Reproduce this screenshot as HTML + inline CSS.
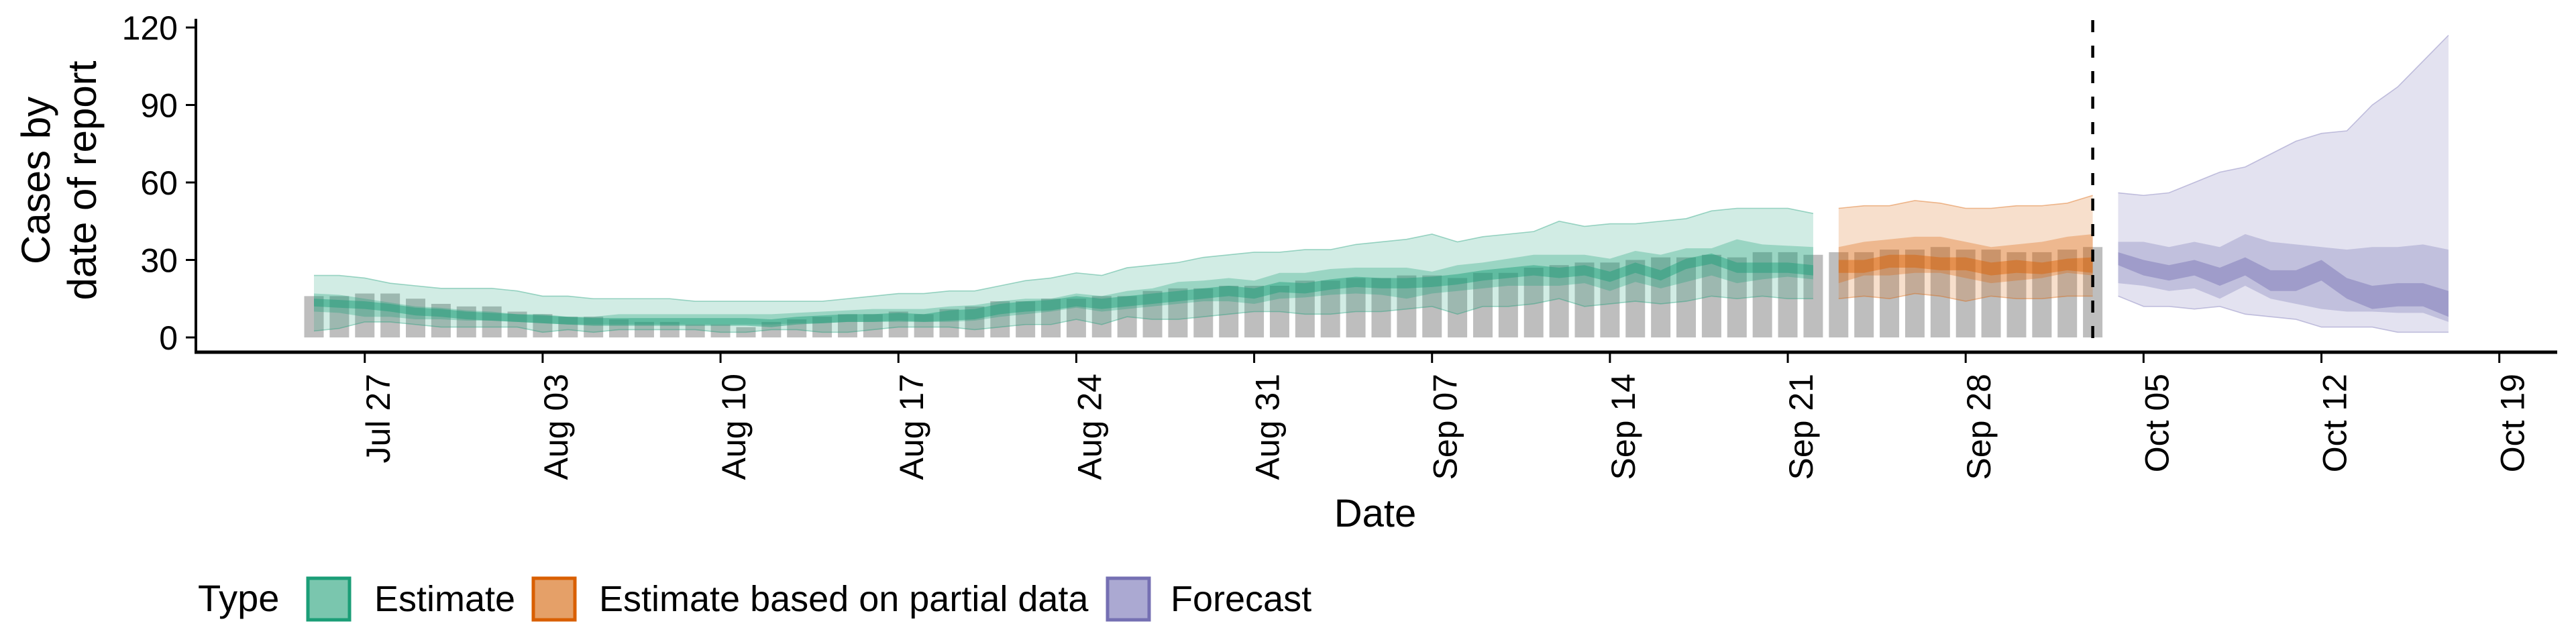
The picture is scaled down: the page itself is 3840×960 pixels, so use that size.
<!DOCTYPE html>
<html><head><meta charset="utf-8"><style>
html,body{margin:0;padding:0;background:#fff;}
svg{display:block;font-family:"Liberation Sans",sans-serif;}
</style></head><body>
<svg id="chart" width="3840" height="960" viewBox="0 0 3840 960" xmlns="http://www.w3.org/2000/svg">
<rect width="3840" height="960" fill="#fff"/>
<g id="bars"></g>
<g id="ribbons"></g>
<g id="axes"></g>
<text transform="translate(74,269) rotate(-90)" text-anchor="middle" font-size="60">Cases by</text>
<text transform="translate(143,269) rotate(-90)" text-anchor="middle" font-size="60">date of report</text>
<text x="2050" y="785" text-anchor="middle" font-size="58">Date</text>
<g>
<text x="295" y="911" font-size="56">Type</text>
<rect x="459" y="862" width="62" height="62" fill="#7AC6AE" stroke="#1B9E77" stroke-width="5"/>
<text x="558" y="911" font-size="54">Estimate</text>
<rect x="795" y="862" width="62" height="62" fill="#E5A068" stroke="#D95F02" stroke-width="5"/>
<text x="893" y="911" font-size="54">Estimate based on partial data</text>
<rect x="1651" y="862" width="62" height="62" fill="#ABA9D2" stroke="#7570B3" stroke-width="5"/>
<text x="1745" y="911" font-size="54">Forecast</text>
</g>
</svg>
<script>
// day 0 = Jul 25
const barCases = [16,16,17,17,15,13,12,12,10,9,8,8,7,6,6,5,5,4,6,7,8,9,9,10,9,
11,12,14,14,15,15,16,16,18,19,19,20,20,20,22,22,23,23,24,24,23,25,25,27,28,29,29,30,31,31,32,31,33,33,32,33,33,
34,34,35,34,34,33,33,34,35];
const estStart = 0;
const estHi90 = [24,24,23,21,20,19,19,19,18,16,16,15,15,15,15,14,14,14,14,14,14,15,16,17,17,18,18,20,22,23,25,24,27,28,29,31,32,33,33,34,34,36,37,38,40,37,39,40,41,45,43,44,44,45,46,49,50,50,50,48];
const estLo90 = [2.5,3.5,6,6,5,4,4,4,4,2,3,2,3,3,3,3,2,2,3,3,2,2,3,4,4,4,3,4,5,5,7,5,8,7,7,8,9,10,10,9,9,10,10,11,12,9,12,12,13,15,12,13,14,13,14,16,15,16,15,15];
const estHi50 = [17,16.5,15,13.5,12,11.5,10.5,10,9,9,8,8,9,9,9,9,9,9,9,9.5,10,10.5,11,11,11,12,12.5,14,15,15,17,16,18,19,21.5,22,23,22,25,25,26.5,27,27,27,25.5,28,29,30.5,32,32,32,30.5,33.5,32,34.5,34.5,38,36,35.5,35];
const estLo50 = [10,9.5,8,8,7,7,6.5,6.5,6,5.5,5,5,5,5,5,5,5,5,5,5.5,5.5,6,6,6,6,6,6.5,8,9,10,11.5,10,11,12,13,14,14,13,15,15.5,16.5,17,16.5,15,17,18,19,20,20,20,21,18,21.5,19,21.5,24,21,22.5,23.5,22.5];
const estHi20 = [15,14.5,14,13,11.5,11,10,9.5,9,8.5,8,7.5,7.5,7.5,7.5,7.5,7.5,7.5,7,8,8.5,9,9,9.5,9,10.5,11,13,14,14.5,16,15,16,17,18,19,20,19,21.5,21,22.5,23.5,23,23,23.5,24.5,26,27,28,27,28,25.5,29,26,30.5,32.5,29,29,29,28];
const estLo20 = [12,11.5,11,10,8.5,8,7,6.5,6,5.5,5,4.5,4.5,4.5,4.5,4.5,4.5,4.5,4,5,5.5,6,6,6.5,6,6.5,7,9,10,10.5,12,11,12,13,14,15,16,15,17.5,17,18.5,19.5,19,19,19.5,20.5,22,23,24,23,24,21.5,25,22,26.5,28.5,25,25,25,24];
const partStart = 60;
const partHi90 = [50,51,51,53,52,50,50,51,51,52,55];
const partLo90 = [15,16,15,17,16,14,16,15,15,16,16];
const partHi50 = [35,37,38,39,39,37,35,36,37,39,40];
const partLo50 = [21,24,24,25,25,23,21,22,23,25,24];
const partHi20 = [30,30,32,32,31,31,29,30,29,30.5,31];
const partLo20 = [25,25,27,27,26,26,24,25,24.5,26,25];
const fcStart = 71;
const fcHi90 = [56,55,56,60,64,66,71,76,79,80,90,97,107,117];
const fcLo90 = [16,12,12,11,12,9,8,7,4,4,4,2,2,2];
const fcHi50 = [37,37,35,37,35,40,37,36,35,34,35,35,36,34];
const fcLo50 = [21,20,18,19,15,20,15,13,11,10,10,9.5,9.5,6];
const fcHi20 = [33,30,28,30,27,31,26,26,30,23,20,21,21,18];
const fcLo20 = [28,24,22,24,20,24,18,18,22,15,11,12,12,8];
const yTicks = [0,30,60,90,120];
const xTickDays = [2,9,16,23,30,37,44,51,58,65,72,79,86];
const xTickLabels = ["Jul 27","Aug 03","Aug 10","Aug 17","Aug 24","Aug 31","Sep 07","Sep 14","Sep 21","Sep 28","Oct 05","Oct 12","Oct 19"];
const forecastDay = 70;

const NS = "http://www.w3.org/2000/svg";
const X0 = 468, DX = 37.88, Y0 = 503, YK = 3.85;
function xs(d){ return X0 + DX*d; }
function ys(v){ return Y0 - YK*v; }
function mk(tag, attrs, parent){
  const e = document.createElementNS(NS, tag);
  for (const k in attrs) e.setAttribute(k, attrs[k]);
  parent.appendChild(e); return e;
}
const barsG = document.getElementById('bars');
barCases.forEach((v,i)=>{
  const r = mk('rect',{x:xs(i)-14.5,y:ys(v),width:29,height:YK*v,fill:'#BEBEBE'},barsG);
  
  
});
const ribG = document.getElementById('ribbons');
function band(start, lo, hi, color, op, name, edge){
  let pts = [];
  for (let i=0;i<hi.length;i++) pts.push(xs(start+i)+','+ys(hi[i]));
  for (let i=lo.length-1;i>=0;i--) pts.push(xs(start+i)+','+ys(lo[i]));
  const p = mk('polygon',{points:pts.join(' '),fill:color,'fill-opacity':op},ribG);
  
  
  if (edge){
    [hi,lo].forEach(arr=>{
      const l = mk('polyline',{points:arr.map((v,i)=>xs(start+i)+','+ys(v)).join(' '),fill:'none',stroke:color,'stroke-opacity':0.4,'stroke-width':1.6},ribG);
      
      
    });
  }
}
band(estStart, estLo90, estHi90, '#1B9E77', 0.2, 'estimate-90-band', true);
band(estStart, estLo50, estHi50, '#1B9E77', 0.3, 'estimate-50-band', false);
band(estStart, estLo20, estHi20, '#1B9E77', 0.45, 'estimate-20-band', false);
band(partStart, partLo90, partHi90, '#D95F02', 0.2, 'partial-90-band', true);
band(partStart, partLo50, partHi50, '#D95F02', 0.3, 'partial-50-band', false);
band(partStart, partLo20, partHi20, '#D95F02', 0.45, 'partial-20-band', false);
band(fcStart, fcLo90, fcHi90, '#7570B3', 0.2, 'forecast-90-band', true);
band(fcStart, fcLo50, fcHi50, '#7570B3', 0.3, 'forecast-50-band', false);
band(fcStart, fcLo20, fcHi20, '#7570B3', 0.45, 'forecast-20-band', false);

const ax = document.getElementById('axes');
const dl = mk('line',{x1:xs(forecastDay),x2:xs(forecastDay),y1:30,y2:525,stroke:'#000','stroke-width':4.5,'stroke-dasharray':'18 20'},ax);


const ya = mk('line',{x1:292,x2:292,y1:28,y2:527,stroke:'#000','stroke-width':4},ax);


const xa = mk('line',{x1:290,x2:3812,y1:525,y2:525,stroke:'#000','stroke-width':5},ax);


yTicks.forEach(v=>{
  const t = mk('line',{x1:277,x2:292,y1:ys(v),y2:ys(v),stroke:'#000','stroke-width':3},ax);
  
  
  const tx = mk('text',{x:265,y:ys(v)+18,'text-anchor':'end','font-size':50},ax);
  tx.textContent = v;
  
  
});
xTickDays.forEach((d,i)=>{
  const t = mk('line',{x1:xs(d),x2:xs(d),y1:525,y2:541,stroke:'#000','stroke-width':3},ax);
  
  
  const tx = mk('text',{transform:'translate('+(xs(d)+37)+',557) rotate(-90)','text-anchor':'end','font-size':50},ax);
  tx.textContent = xTickLabels[i];
  
  
});
</script>
</body></html>
